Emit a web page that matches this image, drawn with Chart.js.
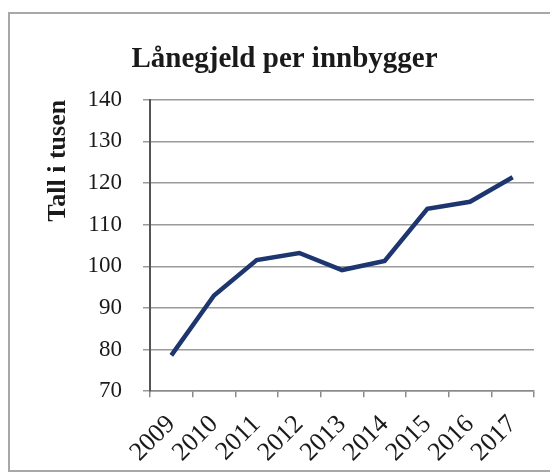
<!DOCTYPE html>
<html>
<head>
<meta charset="utf-8">
<script src="https://cdn.jsdelivr.net/npm/chart.js@4/dist/chart.umd.min.js"></script>
<style>
  html, body { margin: 0; padding: 0; background: #fff; overflow: hidden; }
  #wrap { position: relative; width: 550px; height: 472px; }
  /* grey frame round the chart, right edge runs off the picture */
  #frame {
    position: absolute; left: 8px; top: 12px; width: 600px; height: 456px;
    border: 2px solid #a8a8a8;
  }
  canvas { position: absolute; left: 0; top: 0; }
</style>
</head>
<body>
<div id="wrap">
  <div id="frame"></div>
  <canvas id="loanChart" width="550" height="472"></canvas>
</div>
<script>
// Data Block
const years = ["2009", "2010", "2011", "2012", "2013", "2014", "2015", "2016", "2017"];
const debtPerCapita = [78.6, 93, 101.5, 103.2, 99.1, 101.3, 113.8, 115.5, 121.4];
const yTicks = [70, 80, 90, 100, 110, 120, 130, 140];

const serif = "'Liberation Serif', 'Times New Roman', serif";

const loanData = {
  labels: years,
  datasets: [
    {
      label: "Lånegjeld per innbygger",
      data: debtPerCapita,
      fill: false,
      borderColor: "rgb(30, 54, 112)",
      borderWidth: 4.5,
      pointRadius: 0,
      tension: 0,
    },
  ],
};

// Config Block
const loanConfig = {
  type: "line",
  data: loanData,
  options: {
    responsive: false,
    animation: false,
    layout: {
      padding: { left: 35, right: 16, top: 0, bottom: 0 },
    },
    plugins: {
      legend: { display: false },
      tooltip: { enabled: false },
      title: {
        display: true,
        text: "Lånegjeld per innbygger",
        color: "#1a1a1a",
        font: { family: serif, size: 29, weight: "bold" },
        padding: { top: 42, bottom: 23 },
      },
    },
    scales: {
      x: {
        type: "category",
        offset: true,
        // rotated labels should not push the plot area around
        afterFit: (axis) => {
          axis.paddingLeft = 0;
          axis.paddingRight = 0;
          axis.height = axis.height - 8;
        },
        grid: {
          offset: true,
          drawOnChartArea: false,
          tickLength: 6,
          color: "#8a8a8a",
          lineWidth: 1.5,
        },
        border: { color: "#8a8a8a", width: 1.5 },
        ticks: {
          autoSkip: false,
          minRotation: 45,
          maxRotation: 45,
          padding: 12,
          color: "#1a1a1a",
          font: { family: serif, size: 26 },
        },
      },
      y: {
        min: yTicks[0],
        max: yTicks[yTicks.length - 1],
        afterBuildTicks: (axis) => {
          axis.ticks = yTicks.map((v) => ({ value: v }));
        },
        // fixed axis width so the plot starts where the original does
        afterFit: (axis) => {
          axis.width = 115;
        },
        grid: {
          color: "#9a9a9a",
          lineWidth: 1.5,
          tickLength: 7,
        },
        border: { color: "#555", width: 2 },
        ticks: {
          padding: 21,
          color: "#1a1a1a",
          font: { family: serif, size: 23 },
        },
        title: {
          display: true,
          text: "Tall i tusen",
          align: "end",
          color: "#1a1a1a",
          font: { family: serif, size: 26, weight: "bold" },
          padding: { top: 8, bottom: 13 },
        },
      },
    },
  },
};

// Render Block
const loanChart = new Chart(document.getElementById("loanChart"), loanConfig);
</script>
</body>
</html>
